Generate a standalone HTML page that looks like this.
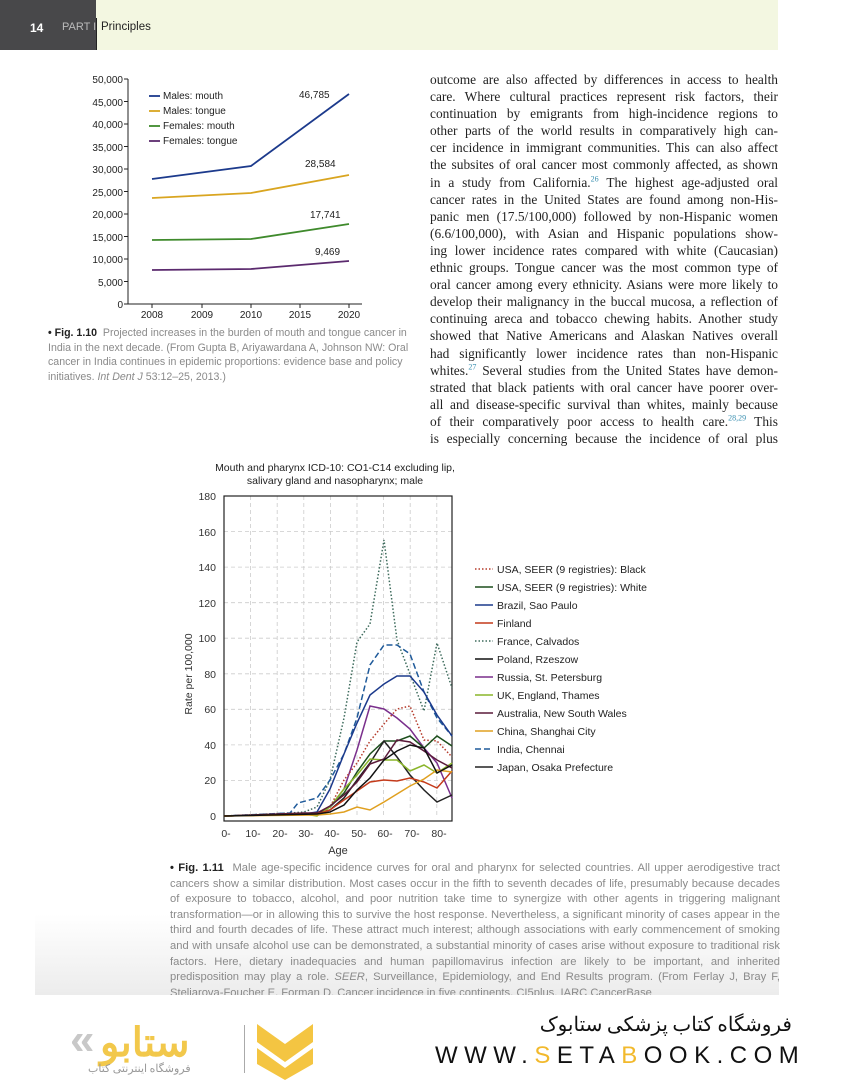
<!DOCTYPE html>
<html><head><meta charset="utf-8"><style>
body{margin:0;width:844px;height:1080px;background:#fff;position:relative;overflow:hidden;font-family:"Liberation Sans",sans-serif}
.hd1{position:absolute;left:0;top:0;width:96px;height:50px;background:#48484a}
.hd2{position:absolute;left:96px;top:0;width:682px;height:50px;background:#f3f7e1}
.body{position:absolute;left:430px;top:71px;width:348px;font-family:"Liberation Serif",serif;font-size:13.4px;line-height:17.1px;color:#222}
.body div{text-align:justify;text-align-last:justify;white-space:nowrap}
.cap{position:absolute;color:#8a8a8a;font-size:10.6px;line-height:14.6px}
.cap b{color:#222}
sup{font-size:8px;color:#3a8fb0;line-height:0}
</style></head><body>
<div class="hd1"></div><div class="hd2"></div>
<div style="position:absolute;left:30px;top:21px;color:#fff;font-weight:bold;font-size:12px">14</div>
<div style="position:absolute;left:62px;top:21px;color:#bbb;font-size:11px;white-space:nowrap">PART I</div>
<div style="position:absolute;left:96px;top:18px;width:1px;height:32px;background:#222"></div>
<div style="position:absolute;left:101px;top:21px;color:#222;font-size:11.5px">Principles</div>

<svg style="position:absolute;left:0;top:0" width="844" height="1080" font-family="Liberation Sans, sans-serif">
<g font-size="10" fill="#222" text-anchor="end">
<text x="123" y="83">50,000</text><text x="123" y="106">45,000</text><text x="123" y="128">40,000</text><text x="123" y="151">35,000</text><text x="123" y="173">30,000</text><text x="123" y="196">25,000</text><text x="123" y="218">20,000</text><text x="123" y="241">15,000</text><text x="123" y="263">10,000</text><text x="123" y="286">5,000</text><text x="123" y="308">0</text>
</g>
<g stroke="#222" stroke-width="1"><line x1="128" y1="79" x2="128" y2="304"/><line x1="128" y1="304" x2="362" y2="304"/>
<path d="M124 79h4M124 101.5h4M124 124h4M124 146.5h4M124 169h4M124 191.5h4M124 214h4M124 236.5h4M124 259h4M124 281.5h4M124 304h4M152 304v4M202 304v4M251 304v4M300 304v4M349 304v4"/></g>
<g font-size="10" fill="#222" text-anchor="middle"><text x="152" y="318">2008</text><text x="202" y="318">2009</text><text x="251" y="318">2010</text><text x="300" y="318">2015</text><text x="349" y="318">2020</text></g>
<g fill="none" stroke-width="1.8">
<polyline stroke="#1c3a8c" points="152,179 251,166 349,94"/>
<polyline stroke="#d9a520" points="152,198 251,193 349,175"/>
<polyline stroke="#3f8a2c" points="152,240 251,239 349,224"/>
<polyline stroke="#5b2a6e" points="152,270 251,269 349,261"/>
</g>
<g font-size="10" fill="#222"><text x="299" y="98">46,785</text><text x="305" y="167">28,584</text><text x="310" y="218">17,741</text><text x="315" y="255">9,469</text>
<text x="163" y="99">Males: mouth</text><text x="163" y="114">Males: tongue</text><text x="163" y="129">Females: mouth</text><text x="163" y="144">Females: tongue</text></g>
<g stroke-width="1.8"><line x1="149" y1="96" x2="160" y2="96" stroke="#1c3a8c"/><line x1="149" y1="111" x2="160" y2="111" stroke="#d9a520"/><line x1="149" y1="126" x2="160" y2="126" stroke="#3f8a2c"/><line x1="149" y1="141" x2="160" y2="141" stroke="#5b2a6e"/></g>

<g font-size="10.5" fill="#222" text-anchor="middle"><text x="335" y="471">Mouth and pharynx ICD-10: CO1-C14 excluding lip,</text><text x="335" y="484">salivary gland and nasopharynx; male</text></g>
<g stroke="#ccc" stroke-dasharray="4,3" stroke-width="0.8">
<path d="M224 531.6H452M224 567.1H452M224 602.7H452M224 638.2H452M224 673.8H452M224 709.3H452M224 744.9H452M224 780.4H452"/>
<path d="M250.6 496V816M277.2 496V816M303.8 496V816M330.4 496V816M357 496V816M383.6 496V816M410.2 496V816M436.8 496V816"/>
</g>
<rect x="224" y="496" width="228" height="325" fill="none" stroke="#222" stroke-width="1.2"/>
<g font-size="10.5" fill="#333" text-anchor="end">
<text x="216" y="500">180</text><text x="216" y="536">160</text><text x="216" y="571">140</text><text x="216" y="607">120</text><text x="216" y="642">100</text><text x="216" y="678">80</text><text x="216" y="713">60</text><text x="216" y="749">40</text><text x="216" y="784">20</text><text x="216" y="820">0</text></g>
<g font-size="10.5" fill="#333" text-anchor="middle"><text x="226" y="837">0-</text><text x="253" y="837">10-</text><text x="280" y="837">20-</text><text x="306" y="837">30-</text><text x="332" y="837">40-</text><text x="359" y="837">50-</text><text x="385" y="837">60-</text><text x="412" y="837">70-</text><text x="439" y="837">80-</text><text x="338" y="854" font-size="11">Age</text></g>
<text transform="translate(192,674) rotate(-90)" font-size="10.5" fill="#333" text-anchor="middle">Rate per 100,000</text>
<g fill="none" stroke-width="1.5">
<polyline stroke="#3d6b5c" stroke-dasharray="1.5,2" points="224,816 290,813 304,812 317,807 330,780 344,718 357,642 370,624 384,540 397,640 410,674 424,711 437,643 452,688"/>
<polyline stroke="#1f5a9a" stroke-dasharray="6,3" points="224,816 290,813 298,803 317,798 330,780 344,754 357,718 370,665 384,645 397,645 410,654 424,692 437,718 452,736"/>
<polyline stroke="#1c3a8c" points="224,816 304,814 317,812 330,789 344,754 357,723 370,695 384,684 397,676 410,676 424,692 437,715 452,736"/>
<polyline stroke="#7a2f8c" points="224,816 304,814 317,813 330,807 344,789 357,750 370,706 384,709 397,718 410,729 424,748 437,763 452,798"/>
<polyline stroke="#b53a2a" stroke-dasharray="1.5,2" points="224,816 304,814 317,813 330,807 344,780 357,763 370,741 384,724 397,709 410,706 424,740 437,741 452,757"/>
<polyline stroke="#1d4f1d" points="224,816 304,814 317,813 330,807 344,793 357,772 370,754 384,741 397,741 410,736 424,748 437,736 452,746"/>
<polyline stroke="#222" points="224,816 304,814 317,813 330,810 344,798 357,780 370,763 384,741 397,757 410,775 424,790 437,802 452,795"/>
<polyline stroke="#8ab52a" points="224,816 304,814 317,816 330,807 344,789 357,775 370,759 384,760 397,760 410,771 424,765 437,773 452,763"/>
<polyline stroke="#5a1a3a" points="224,816 304,813 317,813 330,806 344,795 357,782 370,764 384,759 397,740 410,742 424,751 437,760 452,768"/>
<polyline stroke="#c43a1a" points="224,816 317,814 330,810 344,800 357,791 370,782 384,780 397,781 410,778 424,782 437,788 452,771"/>
<polyline stroke="#e0a020" points="224,816 317,815 330,814 344,812 357,807 370,810 384,802 397,794 410,786 424,779 437,770 452,772"/>
<polyline stroke="#111" points="224,816 317,814 330,812 344,805 357,790 370,778 384,760 397,751 410,745 424,748 437,773 452,765"/>
</g>
<g font-size="10.5" fill="#222">
<text x="497" y="573">USA, SEER (9 registries): Black</text><text x="497" y="591">USA, SEER (9 registries): White</text><text x="497" y="609">Brazil, Sao Paulo</text><text x="497" y="627">Finland</text><text x="497" y="645">France, Calvados</text><text x="497" y="663">Poland, Rzeszow</text><text x="497" y="681">Russia, St. Petersburg</text><text x="497" y="699">UK, England, Thames</text><text x="497" y="717">Australia, New South Wales</text><text x="497" y="735">China, Shanghai City</text><text x="497" y="753">India, Chennai</text><text x="497" y="771">Japan, Osaka Prefecture</text></g>
<g stroke-width="1.5">
<line x1="475" y1="569" x2="493" y2="569" stroke="#b53a2a" stroke-dasharray="1.5,2"/>
<line x1="475" y1="587" x2="493" y2="587" stroke="#1d4f1d"/>
<line x1="475" y1="605" x2="493" y2="605" stroke="#1c3a8c"/>
<line x1="475" y1="623" x2="493" y2="623" stroke="#c43a1a"/>
<line x1="475" y1="641" x2="493" y2="641" stroke="#3d6b5c" stroke-dasharray="1.5,2"/>
<line x1="475" y1="659" x2="493" y2="659" stroke="#111"/>
<line x1="475" y1="677" x2="493" y2="677" stroke="#7a2f8c"/>
<line x1="475" y1="695" x2="493" y2="695" stroke="#8ab52a"/>
<line x1="475" y1="713" x2="493" y2="713" stroke="#5a1a3a"/>
<line x1="475" y1="731" x2="493" y2="731" stroke="#e0a020"/>
<line x1="475" y1="749" x2="493" y2="749" stroke="#1f5a9a" stroke-dasharray="6,3"/>
<line x1="475" y1="767" x2="493" y2="767" stroke="#222"/>
</g>
</svg>

<div class="body">
<div>outcome are also affected by differences in access to health</div>
<div>care. Where cultural practices represent risk factors, their</div>
<div>continuation by emigrants from high-incidence regions to</div>
<div>other parts of the world results in comparatively high can-</div>
<div>cer incidence in immigrant communities. This can also affect</div>
<div>the subsites of oral cancer most commonly affected, as shown</div>
<div>in a study from California.<sup>26</sup> The highest age-adjusted oral</div>
<div>cancer rates in the United States are found among non-His-</div>
<div>panic men (17.5/100,000) followed by non-Hispanic women</div>
<div>(6.6/100,000), with Asian and Hispanic populations show-</div>
<div>ing lower incidence rates compared with white (Caucasian)</div>
<div>ethnic groups. Tongue cancer was the most common type of</div>
<div>oral cancer among every ethnicity. Asians were more likely to</div>
<div>develop their malignancy in the buccal mucosa, a reflection of</div>
<div>continuing areca and tobacco chewing habits. Another study</div>
<div>showed that Native Americans and Alaskan Natives overall</div>
<div>had significantly lower incidence rates than non-Hispanic</div>
<div>whites.<sup>27</sup> Several studies from the United States have demon-</div>
<div>strated that black patients with oral cancer have poorer over-</div>
<div>all and disease-specific survival than whites, mainly because</div>
<div>of their comparatively poor access to health care.<sup>28,29</sup> This</div>
<div>is especially concerning because the incidence of oral plus</div>
</div>

<div class="cap" style="left:48px;top:326px;width:362px"><b>• Fig. 1.10</b>&nbsp; Projected increases in the burden of mouth and tongue cancer in India in the next decade. (From Gupta B, Ariyawardana A, Johnson NW: Oral cancer in India continues in epidemic proportions: evidence base and policy initiatives. <i>Int Dent J</i> 53:12–25, 2013.)</div>

<div style="position:absolute;left:35px;top:860px;width:744px;height:135px;background:linear-gradient(#fff 40%,#ececec);"></div>
<div class="cap" style="left:170px;top:861px;width:610px;font-size:11.2px;line-height:15.6px;text-align:justify;height:134px;overflow:hidden"><b>• Fig. 1.11</b>&nbsp; Male age-specific incidence curves for oral and pharynx for selected countries. All upper aerodigestive tract cancers show a similar distribution. Most cases occur in the fifth to seventh decades of life, presumably because decades of exposure to tobacco, alcohol, and poor nutrition take time to synergize with other agents in triggering malignant transformation—or in allowing this to survive the host response. Nevertheless, a significant minority of cases appear in the third and fourth decades of life. These attract much interest; although associations with early commencement of smoking and with unsafe alcohol use can be demonstrated, a substantial minority of cases arise without exposure to traditional risk factors. Here, dietary inadequacies and human papillomavirus infection are likely to be important, and inherited predisposition may play a role. <i>SEER</i>, Surveillance, Epidemiology, and End Results program. (From Ferlay J, Bray F, Steliarova-Foucher E, Forman D. Cancer incidence in five continents, CI5plus. IARC CancerBase</div>

<div style="position:absolute;left:70px;top:1015px;font-size:44px;color:#c8c8c8;font-weight:bold;letter-spacing:-2px">«</div>
<div style="position:absolute;left:100px;top:1010px;font-size:40px;color:#f2c84b;font-weight:bold;font-family:'Noto Sans CJK SC',sans-serif">ستابو</div>
<div style="position:absolute;left:88px;top:1060px;font-size:11px;color:#999;font-family:'Noto Sans CJK SC',sans-serif">فروشگاه اینترنتی کتاب</div>
<div style="position:absolute;left:244px;top:1025px;width:1px;height:48px;background:#aaa"></div>
<svg style="position:absolute;left:255px;top:1020px" width="60" height="60"><path d="M2 4 L30 24 L58 4 V22 L30 42 L2 22Z" fill="#f4c542"/><path d="M2 28 L30 48 L58 28 V44 L30 60 L2 44Z" fill="#f4c542"/></svg>
<div style="position:absolute;left:480px;top:1008px;font-size:20px;color:#111;font-family:'Noto Sans CJK SC',sans-serif;direction:rtl;width:312px;text-align:right;white-space:nowrap">فروشگاه کتاب پزشکی ستابوک</div>
<div style="position:absolute;left:435px;top:1042px;font-size:24px;color:#111;letter-spacing:6.5px;white-space:nowrap;font-family:'Liberation Sans',sans-serif">WWW.<span style="color:#f2b92c">S</span>ETA<span style="color:#f2b92c">B</span>OOK.COM</div>
</body></html>
